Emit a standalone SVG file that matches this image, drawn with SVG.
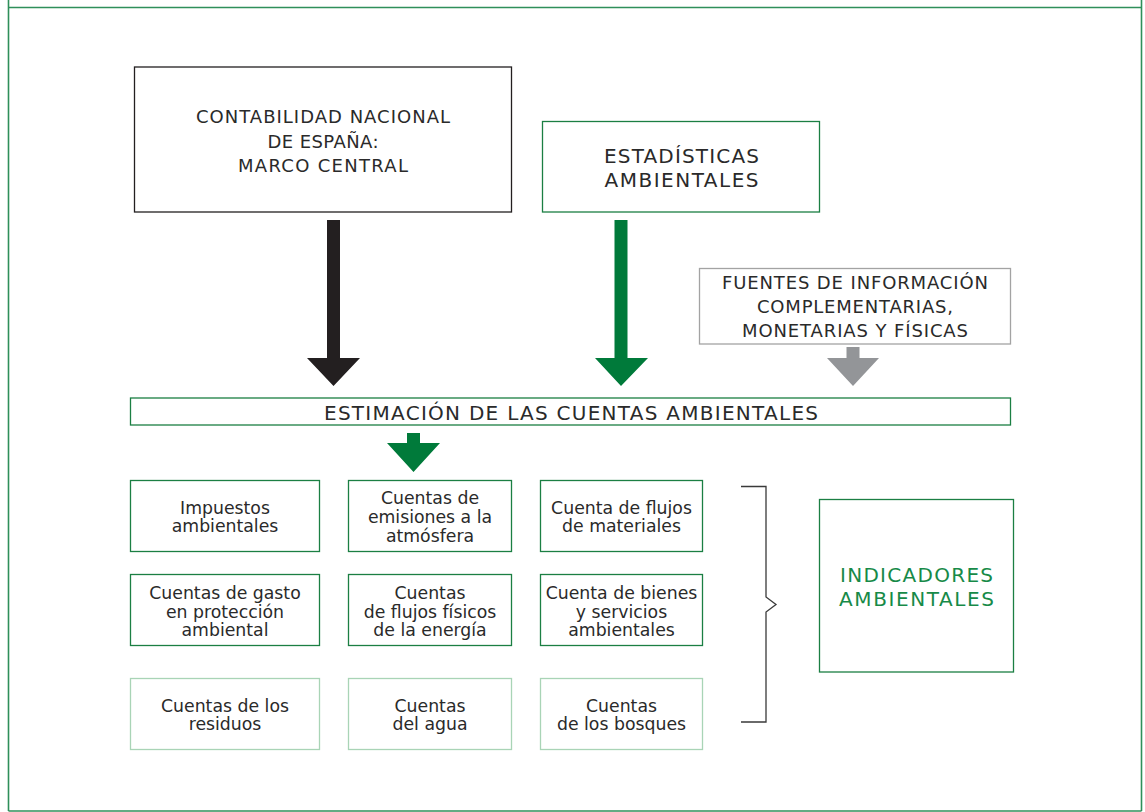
<svg xmlns="http://www.w3.org/2000/svg" width="1145" height="812" viewBox="0 0 1145 812">
<style>
.t{font-family:"DejaVu Sans","Liberation Sans",sans-serif;fill:#2a2a2a;text-anchor:middle}
.cap{font-size:18px}
.big{font-size:20px}
.sm{font-size:17.3px}
.gb{fill:#fff;stroke:#1b7f43;stroke-width:1.3}
.lb{fill:#fff;stroke:#a9d4b6;stroke-width:1.3}
.frame{stroke:#2f8f5a;stroke-width:1.6;fill:none}
</style>
<rect width="1145" height="812" fill="#fff"/>
<g id="frame">
<line class="frame" x1="8.5" y1="0" x2="8.5" y2="811"/>
<line class="frame" x1="1141.5" y1="0" x2="1141.5" y2="811"/>
<line class="frame" x1="8.5" y1="7.5" x2="1141.5" y2="7.5"/>
<line class="frame" x1="8.5" y1="811" x2="1141.5" y2="811"/>
</g>
<g id="n-contabilidad">
<rect x="134.5" y="67" width="377" height="145" fill="#fff" stroke="#231f20" stroke-width="1.3"/>
<text class="t cap" x="323" y="123" textLength="254" lengthAdjust="spacing">CONTABILIDAD NACIONAL</text>
<text class="t cap" x="323" y="148" textLength="111" lengthAdjust="spacing">DE ESPAÑA:</text>
<text class="t cap" x="323" y="172" textLength="170" lengthAdjust="spacing">MARCO CENTRAL</text>
</g>
<g id="n-estadisticas">
<rect class="gb" x="542.5" y="121.5" width="277" height="90.5"/>
<text class="t big" x="681.5" y="163" textLength="155" lengthAdjust="spacing">ESTADÍSTICAS</text>
<text class="t big" x="681.5" y="187" textLength="154" lengthAdjust="spacing">AMBIENTALES</text>
</g>
<g id="n-fuentes">
<rect x="699.5" y="268.5" width="311" height="75.5" fill="#fff" stroke="#a3a3a3" stroke-width="1.3"/>
<text class="t cap" x="855" y="289" textLength="266" lengthAdjust="spacing">FUENTES DE INFORMACIÓN</text>
<text class="t cap" x="855" y="313" textLength="196" lengthAdjust="spacing">COMPLEMENTARIAS,</text>
<text class="t cap" x="855" y="337" textLength="226" lengthAdjust="spacing">MONETARIAS Y FÍSICAS</text>
</g>
<g id="n-estimacion">
<rect class="gb" x="130.5" y="398" width="880" height="27"/>
<text class="t big" x="571" y="420" textLength="494" lengthAdjust="spacing">ESTIMACIÓN DE LAS CUENTAS AMBIENTALES</text>
</g>
<g id="connectors">
<polygon points="327,220 340,220 340,358 360,358 333.5,386 307,358 327,358" fill="#231f20"/>
<polygon points="614.5,220 627.5,220 627.5,358 648,358 621,386 595,358 614.5,358" fill="#007a3a"/>
<polygon points="846.5,347 859.5,347 859.5,358 879,358 853,386 827,358 846.5,358" fill="#939598"/>
<polygon points="407,433 420,433 420,443 440,443 413.5,472 387,443 407,443" fill="#007a3a"/>
<polyline points="741,486.5 766,486.5 766,597 776,604.5 766,612 766,722 741,722" fill="none" stroke="#3a3a3a" stroke-width="1.3"/>
</g>
<g id="n-impuestos">
<rect class="gb" x="130.5" y="480.5" width="189" height="71"/>
<text class="t sm" x="225" y="514">Impuestos</text>
<text class="t sm" x="225" y="532">ambientales</text>
</g>
<g id="n-emisiones">
<rect class="gb" x="348.5" y="480.5" width="163" height="71"/>
<text class="t sm" x="430" y="504">Cuentas de</text>
<text class="t sm" x="430" y="523">emisiones a la</text>
<text class="t sm" x="430" y="541.5">atmósfera</text>
</g>
<g id="n-materiales">
<rect class="gb" x="540.5" y="480.5" width="162" height="71"/>
<text class="t sm" x="621.5" y="514">Cuenta de flujos</text>
<text class="t sm" x="621.5" y="532">de materiales</text>
</g>
<g id="n-gasto">
<rect class="gb" x="130.5" y="574.5" width="189" height="71"/>
<text class="t sm" x="225" y="599">Cuentas de gasto</text>
<text class="t sm" x="225" y="617.5">en protección</text>
<text class="t sm" x="225" y="635.5">ambiental</text>
</g>
<g id="n-energia">
<rect class="gb" x="348.5" y="574.5" width="163" height="71"/>
<text class="t sm" x="430" y="599">Cuentas</text>
<text class="t sm" x="430" y="617.5">de flujos físicos</text>
<text class="t sm" x="430" y="635.5">de la energía</text>
</g>
<g id="n-bienes">
<rect class="gb" x="540.5" y="574.5" width="162" height="71"/>
<text class="t sm" x="621.5" y="599">Cuenta de bienes</text>
<text class="t sm" x="621.5" y="617.5">y servicios</text>
<text class="t sm" x="621.5" y="635.5">ambientales</text>
</g>
<g id="n-residuos">
<rect class="lb" x="130.5" y="678.5" width="189" height="71"/>
<text class="t sm" x="225" y="712">Cuentas de los</text>
<text class="t sm" x="225" y="730">residuos</text>
</g>
<g id="n-agua">
<rect class="lb" x="348.5" y="678.5" width="163" height="71"/>
<text class="t sm" x="430" y="712">Cuentas</text>
<text class="t sm" x="430" y="730">del agua</text>
</g>
<g id="n-bosques">
<rect class="lb" x="540.5" y="678.5" width="162" height="71"/>
<text class="t sm" x="621.5" y="712">Cuentas</text>
<text class="t sm" x="621.5" y="730">de los bosques</text>
</g>
<g id="n-indicadores">
<rect class="gb" x="819.5" y="499.5" width="194" height="172.5"/>
<text class="t big" x="916.5" y="582" textLength="153" lengthAdjust="spacing" style="fill:#178a48">INDICADORES</text>
<text class="t big" x="916.5" y="606" textLength="155" lengthAdjust="spacing" style="fill:#178a48">AMBIENTALES</text>
</g>
</svg>
